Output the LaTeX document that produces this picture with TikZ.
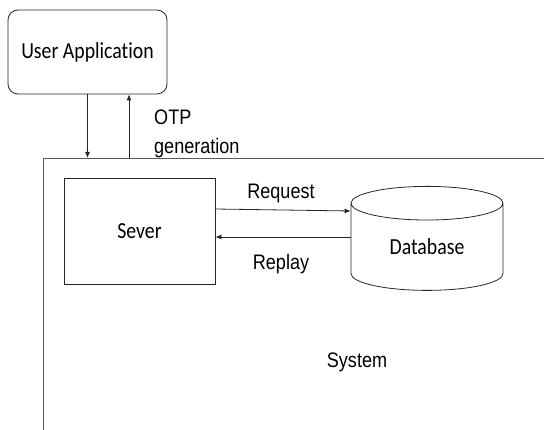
\documentclass[tikz,border=0pt]{standalone}
\usepackage{fontspec}
\setmainfont{Liberation Sans}
\newfontfamily\calib[Ligatures=NoCommon]{Carlito}
\usetikzlibrary{calc,positioning,arrows.meta,shapes.geometric}
\definecolor{ink}{HTML}{262626}
\definecolor{frame}{HTML}{595959}
\newcommand{\LabA}{\fontsize{21}{29}\selectfont}
\newcommand{\LabC}{\calib\fontsize{23}{27}\selectfont}
\newcommand{\sq}[1]{\scalebox{0.86}[1]{#1}}
\tikzset{
  >={Latex[length=6pt,width=5pt]},
  appbox/.style={rounded corners=10pt, draw=ink, line width=0.8pt, minimum width=159pt,
                 minimum height=84pt, inner sep=0pt, font=\LabC},
  srvbox/.style={draw=ink, line width=0.8pt, minimum width=151pt, minimum height=106pt,
                 inner sep=0pt, font=\LabC},
  dbcyl/.style={cylinder, shape border rotate=90, aspect=0.45, draw=ink, line width=0.8pt,
                minimum width=152pt, minimum height=104pt, inner sep=0pt, font=\LabC},
  flow/.style={->, draw=ink, line width=0.8pt},
  lab/.style={inner sep=0pt, font=\LabA, text=black},
}
\begin{document}
\begin{tikzpicture}[x=1pt,y=-1pt]
  \useasboundingbox (0,0) rectangle (544,430);
  % outer system frame, open to the right and bottom
  \coordinate (sysr) at (544,158);
  \coordinate (systl) at (43,158);
  \coordinate (sysb) at (43,430);
  \draw[frame, line width=0.9pt] (sysr) -- (systl) -- (sysb);
  \node[lab] (system) at (357,362) {\sq{System}};
  % blocks
  \node[appbox] (app) at (87.5,52) {\sq{User Application}};
  \node[srvbox] (sever) at (139.5,231) {\sq{Sever}};
  \node[dbcyl] (db) at (427,247) {\sq{Database}};
  % app <-> system
  \coordinate (upfoot) at (129,158);
  \draw[flow] (app.south) -- (app.south |- systl);
  \draw[flow] (upfoot) -- (upfoot |- app.south);
  \node[lab, align=left, anchor=north west] (otp) at (154,110) {\sq{OTP}\\\sq{generation}};
  % server <-> database
  \draw[flow] ($(sever.east)+(0,-22)$) -- (db.west |- 0,211);
  \draw[flow] (db.west |- 0,237) -- (sever.east |- 0,237);
  \node[lab] (req) at (281,193) {\sq{Request}};
  \node[lab] (rep) at (281,264) {\sq{Replay}};
\end{tikzpicture}
\end{document}
